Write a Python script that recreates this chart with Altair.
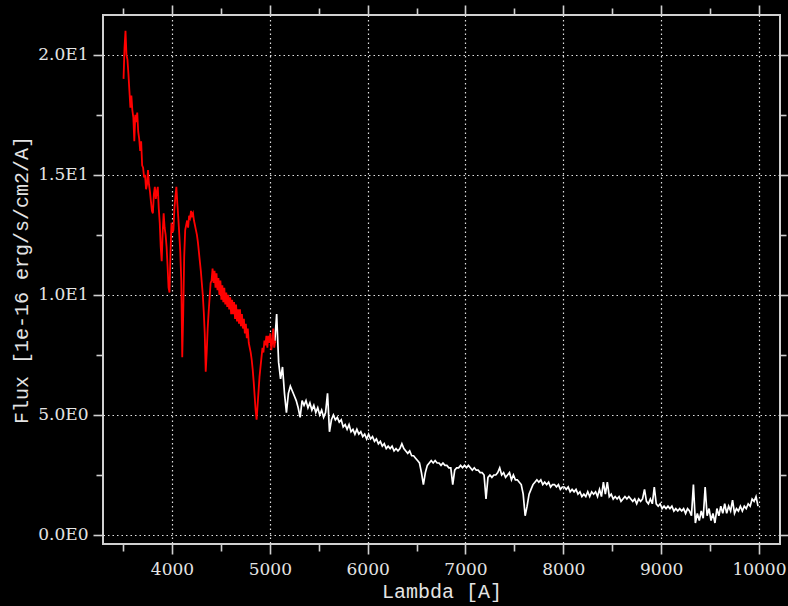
import altair as alt
import pandas as pd

# Blue arm of the spectrum (drawn in red), flux sampled every 10 A from 3505 A
BLUE_START = 3505
BLUE_STEP = 10
blue_flux = [
    19.0, 20.3, 21.0, 20.0, 19.8, 19.2, 18.5, 17.8, 18.3, 17.7,
    17.4, 16.4, 17.5, 17.2, 17.6, 16.8, 16.5, 16.0, 16.4, 15.4,
    15.3, 14.9, 15.0, 14.4, 14.6, 15.2, 14.6, 14.3, 13.9, 13.5,
    13.4, 14.2, 14.5, 14.0, 14.3, 14.5, 13.6, 13.0, 12.0, 11.4,
    12.6, 13.4, 12.8, 12.5, 12.0, 11.2, 10.3, 10.1, 11.8, 13.0,
    12.6, 12.7, 13.6, 14.1, 14.5, 13.8, 13.2, 12.5, 11.8, 10.6,
    7.4, 9.2, 11.6, 12.7, 12.9, 13.1, 12.8, 13.3, 13.2, 13.5,
    13.3, 13.4, 13.1, 12.9, 12.7, 12.5, 12.2, 11.8, 11.4, 11.0,
    10.5, 10.0, 9.3, 8.4, 6.8, 7.6, 8.6, 9.3, 9.9, 10.5,
    10.6, 11.1, 10.5, 11.0, 10.3, 10.9, 10.2, 10.7, 10.0, 10.6,
    9.8, 10.4, 9.7, 10.3, 9.6, 10.1, 9.5, 10.0, 9.4, 9.9,
    9.2, 9.8, 9.2, 9.7, 9.0, 9.6, 8.9, 9.4, 8.8, 9.4,
    8.7, 9.2, 8.6, 9.0, 8.4, 8.8, 8.2, 8.6, 8.0, 7.8,
    7.6, 7.3, 6.9, 6.4, 5.8, 5.2, 4.8, 5.4, 6.0, 6.6,
    7.0, 7.4, 7.8, 7.6, 8.1, 7.9, 8.3, 7.8, 8.3, 8.0,
    8.4, 7.7, 8.0, 8.6, 7.8, 8.1,
]

# Red arm of the spectrum (drawn in white), flux sampled every 20 A from 5050 A
RED_START = 5050
RED_STEP = 20
red_flux = [
    8.0, 9.2, 7.2, 6.5, 7.0, 5.9, 5.1, 5.9, 6.2, 6.0,
    5.8, 5.6, 5.3, 4.9, 5.6, 5.4, 5.6, 5.3, 5.5, 5.2,
    5.4, 5.1, 5.3, 5.0, 5.2, 4.9, 5.1, 5.9, 4.3, 4.8,
    5.0, 4.8, 4.9, 4.7, 4.8, 4.5, 4.6, 4.4, 4.6, 4.3,
    4.4, 4.2, 4.4, 4.2, 4.3, 4.1, 4.2, 4.0, 4.2, 4.0,
    4.1, 3.9, 4.0, 3.8, 3.9, 3.7, 3.8, 3.6, 3.7, 3.6,
    3.7, 3.5, 3.6, 3.5, 3.6, 3.8, 3.6, 3.5, 3.4, 3.5,
    3.3, 3.3, 3.2, 3.1, 3.0, 2.6, 2.1, 2.6, 2.9, 3.0,
    3.1, 3.0, 3.1, 3.0, 3.0, 2.9, 3.0, 2.9, 2.9, 2.8,
    2.8, 2.1, 2.7, 2.8, 2.8, 2.9, 2.8, 2.9, 2.8, 2.9,
    2.8, 2.7, 2.8, 2.7, 2.7, 2.6, 2.6, 2.5, 1.5, 2.4,
    2.5, 2.4, 2.5, 2.5, 2.6, 2.8, 2.5, 2.6, 2.4, 2.5,
    2.6, 2.3, 2.5, 2.3, 2.3, 2.2, 2.1, 1.7, 0.8, 1.2,
    1.7, 1.9, 2.1, 2.2, 2.3, 2.2, 2.3, 2.1, 2.2, 2.1,
    2.2, 2.0, 2.1, 2.1, 2.0, 2.1, 1.9, 2.0, 2.0, 1.9,
    2.0, 1.8, 1.9, 1.8, 1.9, 1.7, 1.8, 1.6, 1.7, 1.6,
    1.8, 1.6, 1.8, 1.7, 1.8, 1.6, 1.9, 1.6, 2.2, 1.7,
    2.2, 1.6, 1.7, 1.5, 1.6, 1.5, 1.6, 1.4, 1.5, 1.6,
    1.5, 1.6, 1.5, 1.4, 1.5, 1.3, 1.5, 1.4, 1.5, 1.9,
    1.4, 1.3, 1.5, 1.3, 2.0, 1.3, 1.2, 1.3, 1.1, 1.2,
    1.1, 1.2, 1.1, 1.2, 1.0, 1.1, 1.0, 1.1, 1.0, 1.1,
    0.9, 1.1, 1.0, 0.8, 2.1, 0.5, 0.9, 0.6, 1.0, 0.7,
    2.0, 0.8, 1.1, 0.6, 0.9, 0.5, 1.1, 0.8, 1.2, 0.9,
    1.3, 0.9, 1.2, 1.0, 1.45, 0.9, 1.1, 1.0, 1.2, 1.0,
    1.2, 1.1, 1.3, 1.2, 1.5, 1.4, 1.6, 1.2,
]

# Axis ticks and labels
x_major = [4000, 5000, 6000, 7000, 8000, 9000, 10000]
x_minor = [3500, 4500, 5500, 6500, 7500, 8500, 9500]
y_major = [0, 5, 10, 15, 20]
y_major_labels = ["0.0E0", "5.0E0", "1.0E1", "1.5E1", "2.0E1"]
y_minor = [2.5, 7.5, 12.5, 17.5]

X_DOMAIN = [3295, 10215]
Y_DOMAIN = [-0.375, 21.66]

blue = pd.DataFrame({
    "lam": [BLUE_START + i * BLUE_STEP for i in range(len(blue_flux))],
    "flux": blue_flux,
})
red = pd.DataFrame({
    "lam": [RED_START + i * RED_STEP for i in range(len(red_flux))],
    "flux": red_flux,
})

LABEL_FONT = "DejaVu Serif"
TITLE_FONT = "Liberation Mono"
TEXT = "#e4e4e4"
FRAME = "#d0d0d0"

x_scale = alt.Scale(domain=X_DOMAIN, nice=False, zero=False)
y_scale = alt.Scale(domain=Y_DOMAIN, nice=False, zero=False)

y_label_expr = " : ".join(
    f"datum.value == {v} ? '{lab}'" for v, lab in zip(y_major, y_major_labels)
) + " : ''"


def tick_axis(orient, values, size):
    return alt.Axis(
        orient=orient, values=values, tickSize=size, labels=False,
        grid=False, domain=False, title=None, tickColor=FRAME, tickWidth=1.6,
    )


def enc(chart, xaxis, yaxis):
    return chart.encode(
        x=alt.X("lam:Q", scale=x_scale, axis=xaxis),
        y=alt.Y("flux:Q", scale=y_scale, axis=yaxis),
    )


white_line = enc(
    alt.Chart(red).mark_line(color="#ffffff", strokeWidth=1.7, clip=True),
    None, None,
)

main_x_axis = alt.Axis(
    orient="bottom", values=x_major, format="d", tickSize=10, tickWidth=1.6,
    tickColor=FRAME, labelPadding=7, grid=True, gridColor="#e0e0e0",
    gridDash=[1.5, 3], gridWidth=1.2, domain=False,
    title="Lambda [A]", titlePadding=4,
)
main_y_axis = alt.Axis(
    orient="left", values=y_major, labelExpr=y_label_expr, tickSize=10,
    tickWidth=1.6, tickColor=FRAME, labelPadding=5, grid=True,
    gridColor="#e0e0e0", gridDash=[1.5, 3], gridWidth=1.2, domain=False,
    title="Flux [1e-16 erg/s/cm2/A]", titlePadding=6,
)
red_line = enc(
    alt.Chart(blue).mark_line(color="#ff0000", strokeWidth=1.8, clip=True),
    main_x_axis, main_y_axis,
)

ghost = alt.Chart(blue).mark_line(strokeOpacity=0)
top_right_major = enc(ghost, tick_axis("top", x_major, 10), tick_axis("right", y_major, 9))
bottom_left_minor = enc(ghost, tick_axis("bottom", x_minor, 7), tick_axis("left", y_minor, 7))
top_right_minor = enc(ghost, tick_axis("top", x_minor, 7), tick_axis("right", y_minor, 6))

chart = (
    alt.layer(white_line, red_line, top_right_major, bottom_left_minor, top_right_minor)
    .resolve_axis(x="independent", y="independent")
    .properties(
        width=677,
        height=529,
        padding={"left": 103, "top": 15, "right": 8, "bottom": 62},
        autosize=alt.AutoSizeParams(type="none"),
        background="#000000",
    )
    .configure_view(stroke=FRAME, strokeWidth=2)
    .configure_axis(
        labelFont=LABEL_FONT, labelFontSize=17, labelColor=TEXT,
        titleFont=TITLE_FONT, titleFontSize=20, titleColor=TEXT,
        titleFontWeight="normal",
    )
)

chart.save("out.html", embed_options={"renderer": "svg", "actions": False})
